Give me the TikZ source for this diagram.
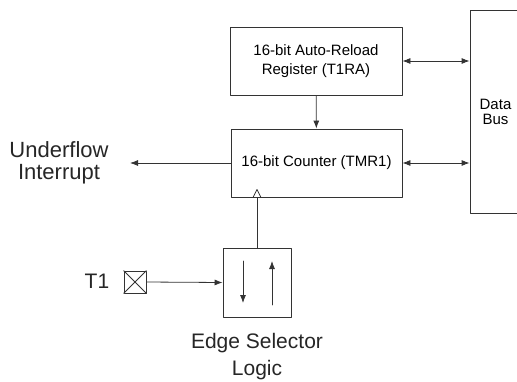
\documentclass[tikz,border=0pt]{standalone}
\usepackage{fontspec}
\setmainfont{Liberation Sans}
\usetikzlibrary{arrows.meta}
\begin{document}
\begin{tikzpicture}[
	x=1pt,y=-1pt,
	>={Latex[length=8pt,width=6pt]},
	line width=0.8pt,
	draw=black!80,
	line cap=round,
	line join=round,
	blk/.style={draw=black!80,line width=0.8pt,minimum width=#1,inner sep=0pt,align=center,font=\fontsize{15}{18.5}\selectfont},
	lbl/.style={inner sep=0pt,align=center,font=\fontsize{22}{22}\selectfont,text=black!85}
	]
	\useasboundingbox (0,0) rectangle (517,381);
	% blocks
	\node[blk=172pt,minimum height=68pt] (reg) at (316,61) {16-bit Auto-Reload\\Register (T1RA)};
	\node[blk=171pt,minimum height=68pt] (cnt) at (316.5,163) {16-bit Counter (TMR1)};
	\node[blk=51pt,minimum height=203pt,font=\fontsize{15}{15}\selectfont] (bus) at (495.5,111.5) {Data\\Bus};
	\node[blk=68pt,minimum height=69pt] (edge) at (257,282.5) {};
	\node[blk=22pt,minimum height=22pt] (t1box) at (135,282) {};
	% labels
	\node[lbl] (uflow) at (59,163) {Underflow\\Interrupt};
	\node[lbl,font=\fontsize{21}{22}\selectfont] (t1) at (97,281) {T1};
	\node[lbl,font=\fontsize{21}{27}\selectfont] (edgelbl) at (257,357) {Edge Selector\\Logic};
	\coordinate (uftip) at (130,163);
	\coordinate (clk) at (cnt.south -| edge.north);
	% connectors
	\draw[<->] (reg.east) -- (reg.east -| bus.west);
	\draw[<->] (cnt.east) -- (cnt.east -| bus.west);
	\draw[->] (reg) -- (cnt);
	\draw[->] (cnt.west) -- (uftip);
	\draw (clk) ++(-4,0) -- ++(4,-8) -- ++(4,8);
	\draw (clk) -- (edge.north);
	\draw[->] (t1box.east) -- (edge.west);
	\draw (t1box.north west) -- (t1box.south east) (t1box.south west) -- (t1box.north east);
	% edge arrows
	\draw[->] (243,261) -- (243,303);
	\draw[->] (272,305) -- (272,261);
\end{tikzpicture}
\end{document}
